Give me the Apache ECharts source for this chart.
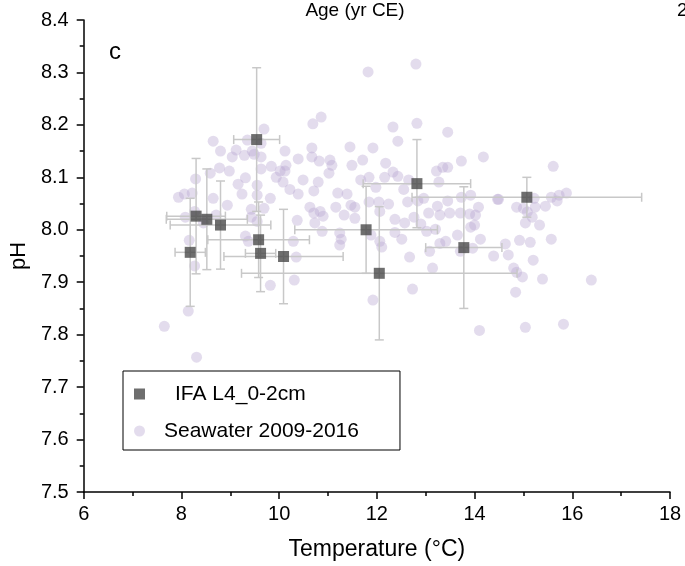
<!DOCTYPE html>
<html><head><meta charset="utf-8">
<script src="https://cdn.jsdelivr.net/npm/echarts@6/dist/echarts.min.js"></script>
<style>html,body{margin:0;padding:0;background:#fff}#c{width:685px;height:566px}</style>
</head><body><div id="c"></div>
<script>
// Seawater 2009-2016 (temperature °C, pH)
const seaTemp = [9.69,8.65,9.35,9.63,8.80,9.12,9.04,9.29,9.45,9.49,9.63,10.12,10.39,8.78,8.98,8.59,9.63,9.84,10.14,10.02,
10.12,9.94,10.08,10.22,10.39,8.29,9.31,9.16,9.55,8.22,8.06,7.94,8.65,9.24,9.55,9.82,8.94,9.69,9.43,8.27,
8.71,8.45,9.43,9.55,8.08,10.37,8.16,9.31,9.37,10.29,10.35,8.27,10.31,8.14,7.65,8.31,9.82,10.86,10.69,12.33,
12.82,13.45,12.43,14.18,10.67,11.45,11.92,10.67,10.82,11.04,11.08,11.49,11.71,12.18,11.02,12.33,13.22,13.35,13.45,13.73,
10.49,10.80,11.67,11.84,12.16,12.43,12.65,13.27,10.71,11.20,11.39,11.98,12.55,12.96,12.84,13.24,13.45,13.73,13.92,14.47,
11.84,12.04,12.24,12.63,11.16,11.47,11.55,12.06,10.63,10.71,10.84,10.90,11.33,11.55,10.73,10.88,12.37,12.57,12.76,13.06,
13.29,13.49,13.71,13.90,14.08,14.02,14.00,12.90,13.02,13.20,11.24,11.27,11.24,12.37,12.51,12.06,12.10,11.88,12.67,13.08,
13.29,13.41,13.65,13.71,13.96,14.12,14.39,13.14,12.73,11.92,14.10,15.61,14.49,15.22,15.57,15.73,15.88,15.69,14.86,15.00,
15.24,15.45,15.08,15.18,15.04,15.33,14.63,14.92,15.14,15.57,14.69,15.20,14.80,14.86,14.98,15.39,16.39,14.84,15.04,15.82,
13.92,11.82,12.80];
const seaPH = [8.192,8.169,8.171,8.165,8.150,8.152,8.139,8.142,8.150,8.144,8.139,8.150,8.135,8.118,8.112,8.108,8.116,8.121,8.123,8.112,
8.112,8.100,8.091,8.077,8.068,8.097,8.099,8.087,8.085,8.070,8.068,8.062,8.060,8.068,8.066,8.060,8.047,8.041,8.039,8.035,
8.028,8.013,8.024,8.016,8.024,8.018,7.980,7.988,7.978,7.978,7.948,7.931,7.904,7.845,7.816,7.757,7.894,8.215,8.202,8.196,
8.203,8.186,8.169,8.139,8.156,8.158,8.156,8.139,8.131,8.133,8.123,8.123,8.133,8.127,8.108,8.110,8.112,8.119,8.119,8.131,
8.095,8.091,8.095,8.100,8.100,8.102,8.095,8.091,8.074,8.070,8.068,8.081,8.077,8.060,8.055,8.045,8.055,8.062,8.066,8.058,
8.053,8.053,8.049,8.053,8.043,8.047,8.043,8.035,8.043,8.032,8.035,8.026,8.028,8.022,8.013,7.997,8.020,8.013,8.024,8.032,
8.028,8.032,8.032,8.030,8.043,8.028,8.009,8.011,7.997,8.001,7.994,7.982,7.971,7.995,7.982,7.978,7.967,7.990,7.948,7.959,
7.974,7.978,7.990,7.959,7.965,7.982,7.950,7.927,7.887,7.866,7.808,8.121,8.058,8.060,8.062,8.066,8.070,8.055,8.043,8.041,
8.043,8.045,8.034,8.024,8.013,8.009,7.973,7.980,7.976,7.982,7.952,7.942,7.927,7.919,7.910,7.906,7.904,7.881,7.814,7.820,
8.005,8.301,8.316];

// IFA L4_0-2cm (temperature °C, pH, with uncertainties)
const ifaTemp    = [9.54, 8.30, 8.52, 8.80, 9.58, 8.18, 9.62, 10.09, 12.82, 11.78, 12.05, 13.78, 15.07];
const ifaPH      = [8.172, 8.026, 8.020, 8.009, 7.981, 7.957, 7.955, 7.949, 8.088, 8.000, 7.917, 7.966, 8.062];
const ifaTempErr = [0.47, 0.60, 0.83, 1.03, 1.04, 0.31, 0.31, 1.22, 1.10, 1.46, 2.82, 0.78, 2.35];
const ifaPHErr   = [0.137, 0.110, 0.096, 0.084, 0.072, 0.103, 0.073, 0.090, 0.084, 0.083, 0.127, 0.116, 0.038];

const ifaName = 'IFA L4_0-2cm';
const seaName = 'Seawater 2009-2016';
const xName = 'Temperature (°C)';
const yName = 'pH';
const panelLabel = 'c';
const topAxisTitle = 'Age (yr CE)';
const topAxisCut = '2';

const FONT = "'Liberation Sans', Arial, sans-serif";
const seaData = seaTemp.map((t, i) => [t, seaPH[i]]);
const ifaData = ifaTemp.map((t, i) => [t, ifaPH[i], ifaTempErr[i], ifaPHErr[i]]);

const chart = echarts.init(document.getElementById('c'), null, {renderer: 'canvas'});
const axisCommon = {
  type: 'value',
  splitLine: {show: false},
  axisLine: {show: true, onZero: false, lineStyle: {color: '#000', width: 1.5}},
  axisTick: {show: true, inside: false, length: 7, lineStyle: {color: '#000', width: 1.5}},
  minorTick: {show: true, splitNumber: 2, length: 4, lineStyle: {color: '#000', width: 1.5}},
  nameLocation: 'middle'
};
chart.setOption({
  animation: false,
  backgroundColor: '#fff',
  grid: {left: 82, right: 15, top: 20, bottom: 74},
  xAxis: Object.assign({}, axisCommon, {
    min: 6, max: 18, interval: 2,
    name: xName, nameGap: 46,
    nameTextStyle: {color: '#000', fontSize: 23, fontFamily: FONT},
    axisLabel: {color: '#000', fontSize: 20, fontFamily: FONT, margin: 12}
  }),
  yAxis: Object.assign({}, axisCommon, {
    min: 7.5, max: 8.4, interval: 0.1,
    name: yName, nameGap: 49,
    nameTextStyle: {color: '#000', fontSize: 22, fontFamily: FONT},
    axisLabel: {color: '#000', fontSize: 20, fontFamily: FONT, margin: 15,
      formatter: v => v.toFixed(1)}
  }),
  legend: {
    orient: 'vertical', left: 123, top: 371,
    padding: [11, 41, 7, 11], itemGap: 13,
    itemWidth: 11, itemHeight: 11,
    borderColor: '#000', borderWidth: 1,
    selectedMode: false,
    data: [ifaName, seaName],
    formatter: n => (n === ifaName ? '{a| }' : '{b| }') + n,
    textStyle: {color: '#000', fontSize: 21, fontFamily: FONT, lineHeight: 24,
      rich: {a: {width: 25}, b: {width: 14}}}
  },
  graphic: [
    {type: 'text', x: 355, y: 1, style: {text: topAxisTitle, fill: '#000', fontSize: 19, fontFamily: FONT, align: 'center', verticalAlign: 'top'}},
    {type: 'text', x: 677, y: 1, style: {text: topAxisCut, fill: '#000', fontSize: 19, fontFamily: FONT, align: 'left', verticalAlign: 'top'}},
    {type: 'text', x: 109, y: 40, style: {text: panelLabel, fill: '#000', fontSize: 24, fontFamily: FONT, align: 'left', verticalAlign: 'top'}}
  ],
  series: [
    {
      name: seaName, type: 'scatter', z: 2,
      symbol: 'circle', symbolSize: 11,
      itemStyle: {color: 'rgba(185,167,209,0.5)'},
      data: seaData
    },
    {
      type: 'custom', z: 3, silent: true,
      encode: {x: 0, y: 1},
      data: ifaData,
      renderItem: function (params, api) {
        const x = api.value(0), y = api.value(1), ex = api.value(2), ey = api.value(3);
        const c = api.coord([x, y]);
        const l = api.coord([x - ex, y]), r = api.coord([x + ex, y]);
        const t = api.coord([x, y + ey]), b = api.coord([x, y - ey]);
        const cap = 4.5;
        const style = {stroke: '#c8c8c8', lineWidth: 1.5};
        const ln = (x1, y1, x2, y2) => ({type: 'line', shape: {x1, y1, x2, y2}, style});
        return {type: 'group', children: [
          ln(l[0], c[1], r[0], c[1]),
          ln(l[0], c[1] - cap, l[0], c[1] + cap),
          ln(r[0], c[1] - cap, r[0], c[1] + cap),
          ln(c[0], t[1], c[0], b[1]),
          ln(c[0] - cap, t[1], c[0] + cap, t[1]),
          ln(c[0] - cap, b[1], c[0] + cap, b[1])
        ]};
      }
    },
    {
      name: ifaName, type: 'scatter', z: 4,
      symbol: 'rect', symbolSize: 11,
      itemStyle: {color: '#4a4a4a'},
      data: ifaData.map(d => [d[0], d[1]])
    }
  ]
});
</script>
</body></html>
